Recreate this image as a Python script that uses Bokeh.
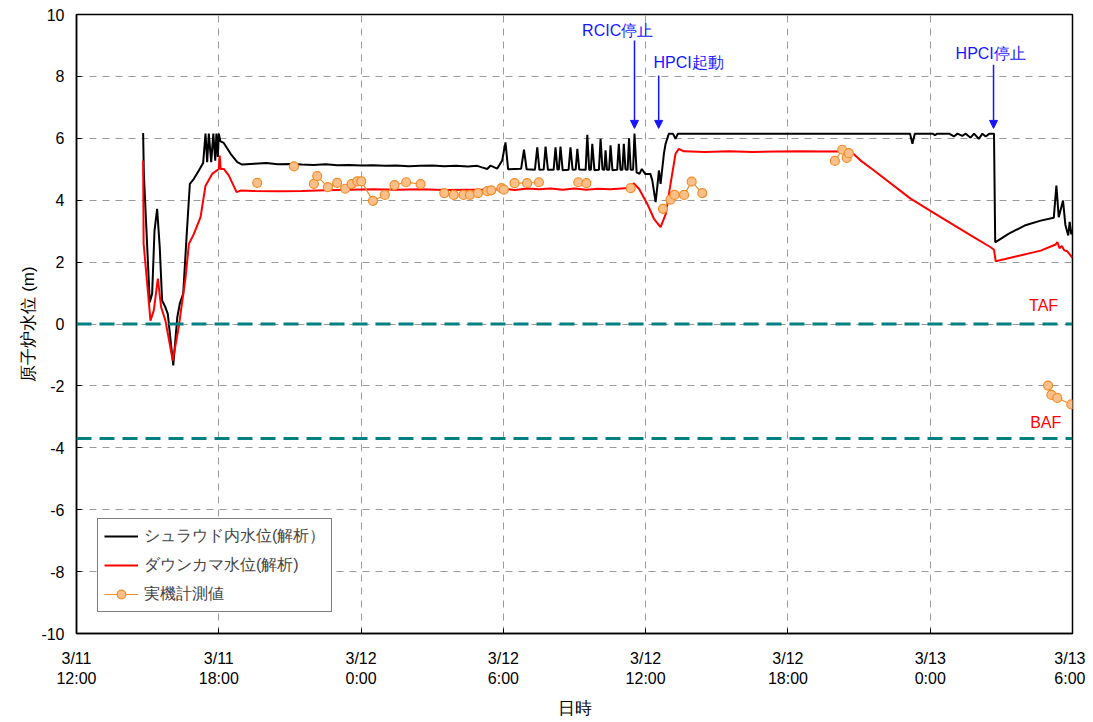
from bokeh.plotting import figure
from bokeh.models import (Range1d, FixedTicker, Span, Label, Arrow, NormalHead,
                          Legend, LegendItem)
from bokeh.embed import file_html
from bokeh.resources import INLINE

nan = float("nan")

# ---- data (hours since 3/11 12:00, water level in m) ----
tick_hours = [0, 6, 12, 18, 24, 30, 36, 42]
tick_labels = ["3/11\n12:00", "3/11\n18:00", "3/12\n0:00", "3/12\n6:00",
               "3/12\n12:00", "3/12\n18:00", "3/13\n0:00", "3/13\n6:00"]
y_ticks = [-10, -8, -6, -4, -2, 0, 2, 4, 6, 8, 10]
y_tick_labels = ["-10", "-8", "-6", "-4", "-2", "0", "2", "4", "6", "8", "10"]

shroud_t = [2.81, 2.84, 3.09, 3.19, 3.29, 3.40, 3.51, 3.61, 3.75, 3.85, 4.08, 4.25,
            4.36, 4.50, 4.64, 4.78, 4.95, 5.16, 5.34, 5.44, 5.51, 5.58, 5.68, 5.77,
            5.85, 5.90, 5.96, 6.00, 6.07, 6.21, 6.50, 6.78, 6.99,
            7.5, 8.0, 8.5, 9.0, 9.5, 10.0, 10.5, 11.0, 11.5, 12.0, 12.5, 13.0, 13.5,
            14.0, 14.5, 15.0, 15.5, 16.0, 16.5, 16.9, 17.1, 17.32,
            17.46, 17.74, 17.95, 18.09, 18.20, 18.75, 18.87, 18.98,
            19.33, 19.43, 19.52, 19.70, 19.78, 19.88, 20.12, 20.20, 20.28,
            20.34, 20.41, 20.50, 20.75, 20.83, 20.92, 21.05, 21.12, 21.20,
            21.47, 21.54, 21.62, 21.69, 21.75, 21.84, 22.03, 22.10, 22.18,
            22.26, 22.31, 22.37, 22.46, 22.52, 22.60, 22.80, 22.87, 22.94,
            23.02, 23.08, 23.15, 23.24, 23.30, 23.37, 23.47, 23.53, 23.62,
            23.74, 23.84, 23.98, 24.20, 24.28, 24.42, 24.49, 24.56, 24.63, 24.77,
            24.84, 24.98, 25.15, 25.26, 25.36,
            35.15, 35.25, 35.35, 36.10, 36.20, 36.30, 36.80, 37.00, 37.15, 37.35,
            37.50, 37.70, 37.85, 38.05, 38.20, 38.34, 38.50, 38.69,
            38.74, 39.30, 39.98, 40.66, 41.21, 41.32, 41.42, 41.60, 41.70, 41.82,
            41.88, 41.95, 42.0]
shroud_v = [6.17, 4.85, 0.70, 0.98, 3.02, 3.72, 2.48, 0.76, 0.54, 0.33, -1.34, 0.22,
            0.67, 0.98, 2.80, 4.53, 4.69, 4.96, 5.20, 6.15, 5.23, 6.15, 5.23, 6.15,
            5.28, 6.15, 5.40, 6.15, 5.90, 5.85, 5.50, 5.23, 5.15,
            5.18, 5.20, 5.16, 5.17, 5.15, 5.14, 5.16, 5.13, 5.14, 5.12, 5.13, 5.11, 5.12,
            5.10, 5.11, 5.12, 5.10, 5.11, 5.09, 5.11, 5.06, 5.01,
            5.12, 5.02, 5.28, 5.87, 5.00, 5.02, 5.63, 5.00,
            4.98, 5.71, 4.98, 4.99, 5.73, 4.98, 4.98, 5.71, 4.99,
            4.99, 5.73, 4.97, 4.98, 5.71, 4.98, 4.99, 5.66, 4.99,
            4.98, 6.11, 4.98, 4.98, 5.82, 4.97, 4.98, 5.98, 4.99,
            4.98, 5.61, 4.98, 4.98, 5.77, 4.97, 4.98, 5.82, 4.98,
            4.98, 5.82, 4.99, 4.98, 6.00, 4.98, 4.98, 6.15, 4.90,
            4.85, 5.01, 4.85, 4.85, 4.64, 3.94, 4.42, 4.96, 4.53, 5.50,
            5.82, 6.15, 6.15, 5.98, 6.15,
            6.15, 5.82, 6.15, 6.15, 6.10, 6.15, 6.15, 6.06, 6.15, 6.08,
            6.15, 6.02, 6.15, 5.98, 6.15, 6.06, 6.15, 6.15,
            2.64, 2.91, 3.18, 3.34, 3.43, 4.47, 3.45, 3.99, 3.20, 2.86,
            3.30, 2.90, 3.05]

downcomer_t = [2.81, 2.83, 3.12, 3.26, 3.43, 3.57, 3.75, 4.06, 4.31, 4.60, 4.74, 4.95,
               5.23, 5.44, 5.72, 6.00, 6.04, 6.08, 6.21, 6.42, 6.75, 6.92, 7.5, 8.5,
               9.5, 10.5, 11.5, 12.5, 13.5, 14.5, 15.5, 16.5, 17.5, 18.0, 18.5, 19.0,
               19.5, 20.0, 20.5, 21.0, 21.5, 22.0, 22.5, 23.0, 23.37, 23.49, 23.72,
               24.07, 24.35, 24.63, 24.85, 25.05, 25.26, 25.40, 25.61, 26.5, 27.5,
               28.5, 29.5, 30.5, 31.5, 32.64, 33.07, 33.63, 35.17, 36.44, 37.85,
               38.55, 38.69, 38.76, 39.70, 40.66, 41.29, 41.36, 41.45, 41.55, 41.65,
               41.78, 42.0]
downcomer_v = [5.28, 2.60, 0.11, 0.44, 1.47, 0.54, 0.11, -1.18, -0.10, 1.51, 2.59, 2.91,
               3.45, 4.47, 4.85, 5.01, 5.44, 5.01, 5.01, 4.80, 4.26, 4.31, 4.30, 4.29,
               4.30, 4.32, 4.34, 4.35, 4.34, 4.35, 4.33, 4.34, 4.34, 4.37, 4.33, 4.38,
               4.35, 4.38, 4.34, 4.38, 4.34, 4.37, 4.35, 4.38, 4.40, 4.55, 4.37,
               3.88, 3.40, 3.13, 3.56, 4.53, 5.50, 5.66, 5.58, 5.56, 5.58,
               5.56, 5.57, 5.58, 5.57, 5.58, 5.28, 4.96, 4.05, 3.45, 2.80,
               2.48, 2.40, 2.03, 2.20, 2.37, 2.57, 2.65, 2.45, 2.52, 2.38,
               2.35, 2.14]

meas_t = [7.62, nan, 9.17, nan, 10.01, 10.15, 10.60, 10.99, 11.33, 11.60, 11.84, 12.01,
          12.50, 13.00, 13.41, 13.90, 14.51, nan, 15.51, 15.91, 16.32, 16.59, 16.93,
          17.32, 17.49, 17.92, 18.02, nan, 18.47, 19.00, 19.50, nan, 21.16, 21.50, nan,
          23.37, nan, 24.73, 25.05, 25.22, 25.62, 25.94, 26.39, nan, 31.98, 32.29,
          32.48, 32.57, nan, 40.97, 41.11, 41.36, 41.95]
meas_v = [4.56, nan, 5.09, nan, 4.53, 4.78, 4.42, 4.56, 4.37, 4.52, 4.61, 4.61,
          3.98, 4.17, 4.49, 4.58, 4.52, nan, 4.23, 4.17, 4.17, 4.17, 4.23,
          4.29, 4.32, 4.39, 4.34, nan, 4.55, 4.55, 4.58, nan, 4.58, 4.55, nan,
          4.39, nan, 3.72, 4.02, 4.17, 4.17, 4.60, 4.23, nan, 5.27, 5.63,
          5.37, 5.52, nan, -1.99, -2.29, -2.39, -2.60]

taf_level = 0.0
baf_level = -3.7

FONT = "Liberation Sans"

p = figure(frame_width=996, frame_height=619,
           x_range=Range1d(0, 42), y_range=Range1d(-10, 10),
           output_backend="svg", toolbar_location=None,
           min_border_left=76, min_border_right=13, min_border_top=14,
           min_border_bottom=73)
p.background_fill_color = "white"
p.border_fill_color = "white"
p.outline_line_color = "black"
p.outline_line_width = 1.5

# axes
p.xaxis.ticker = FixedTicker(ticks=tick_hours)
p.xaxis.major_label_overrides = {h: l for h, l in zip(tick_hours, tick_labels)}
p.yaxis.ticker = FixedTicker(ticks=y_ticks)
p.yaxis.major_label_overrides = {v: l for v, l in zip(y_ticks, y_tick_labels)}
for ax in (p.xaxis[0], p.yaxis[0]):
    ax.major_tick_in = 5
    ax.major_tick_out = 0
    ax.minor_tick_in = 0
    ax.minor_tick_out = 0
    ax.axis_line_color = "black"
    ax.axis_line_width = 1.5
    ax.major_tick_line_color = "black"
    ax.major_label_text_font = FONT
    ax.major_label_text_font_size = "16px"
    ax.major_label_text_color = "black"
    ax.axis_label_text_font = FONT
    ax.axis_label_text_font_size = "17px"
    ax.axis_label_text_font_style = "normal"
    ax.axis_label_text_color = "black"
p.xaxis.axis_label = "日時"
p.yaxis.axis_label = "原子炉水位 (m)"
p.xaxis.major_label_standoff = 16
p.yaxis.major_label_standoff = 12
p.xaxis.axis_label_standoff = 9
p.yaxis.axis_label_standoff = 0

p.xgrid.ticker = FixedTicker(ticks=tick_hours)
p.ygrid.ticker = FixedTicker(ticks=y_ticks)
for g in (p.xgrid[0], p.ygrid[0]):
    g.grid_line_color = "#9a9a9a"
    g.grid_line_width = 1
    g.grid_line_dash = "7 6"

# TAF / BAF
for lev in (taf_level, baf_level):
    p.add_layout(Span(location=lev, dimension="width", line_color="#008080",
                      line_width=3, line_dash="15 8"))
p.add_layout(Label(x=40.78, y=0.60, text="TAF", text_align="center",
                   text_baseline="middle", text_color="red",
                   text_font=FONT, text_font_size="16px"))
p.add_layout(Label(x=40.87, y=-3.18, text="BAF", text_align="center",
                   text_baseline="middle", text_color="red",
                   text_font=FONT, text_font_size="16px"))

# series
r_black = p.line(shroud_t, shroud_v, line_color="black", line_width=2)
r_red = p.line(downcomer_t, downcomer_v, line_color="#FF0000", line_width=2)
r_oline = p.line(meas_t, meas_v, line_color="#F28C28", line_width=1.2)
r_opts = p.scatter(meas_t, meas_v, marker="circle", size=9,
                   fill_color="#FBC08A", line_color="#F28C28", line_width=1.2)

# annotations
ann = [("RCIC停止", 22.82, 9.48, 23.53, 9.16),
       ("HPCI起動", 25.81, 8.46, 24.55, 8.03),
       ("HPCI停止", 38.55, 8.75, 38.67, 8.38)]
for txt, tx, ty, ax_, ay in ann:
    p.add_layout(Label(x=tx, y=ty, text=txt, text_align="center",
                       text_baseline="middle", text_color="#1515ff",
                       text_font=FONT, text_font_size="16px"))
    p.add_layout(Arrow(end=NormalHead(size=8, fill_color="#1515ff",
                                      line_color="#1515ff"),
                       x_start=ax_, y_start=ay, x_end=ax_, y_end=6.32,
                       line_color="#1515ff", line_width=1.5))

legend = Legend(items=[
    LegendItem(label="シュラウド内水位(解析）", renderers=[r_black]),
    LegendItem(label="ダウンカマ水位(解析)", renderers=[r_red]),
    LegendItem(label="実機計測値", renderers=[r_oline, r_opts]),
], location=(21, 21))
legend.label_text_font = FONT
legend.label_text_font_size = "16px"
legend.label_height = 22
legend.glyph_height = 22
legend.glyph_width = 34
legend.label_standoff = 6
legend.spacing = 7
legend.padding = 6
legend.margin = 0
legend.border_line_color = "black"
legend.border_line_width = 1.5
legend.background_fill_color = "white"
legend.background_fill_alpha = 1.0
p.add_layout(legend)

open("out.html", "w").write(file_html(p, INLINE))
